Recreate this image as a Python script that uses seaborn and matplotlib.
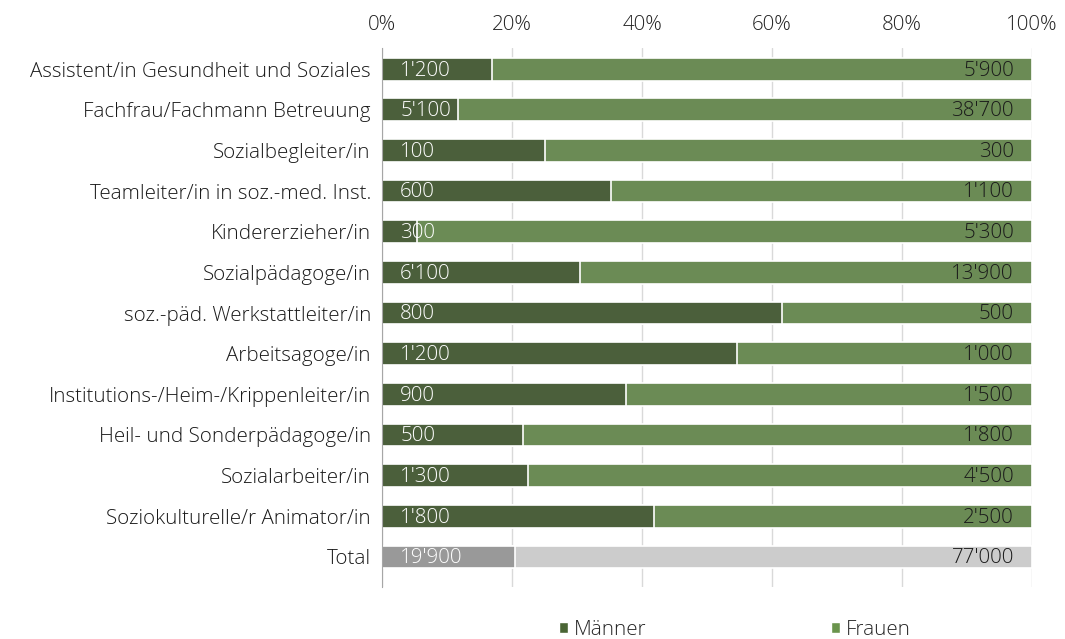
import numpy as np
import pandas as pd
import matplotlib
matplotlib.use('Agg')
import matplotlib.pyplot as plt
import seaborn as sns
from matplotlib.patches import Patch

berufe = ['Assistent/in Gesundheit und Soziales', 'Fachfrau/Fachmann Betreuung',
          'Sozialbegleiter/in', 'Teamleiter/in in soz.-med. Inst.', 'Kindererzieher/in',
          'Sozialpädagoge/in', 'soz.-päd. Werkstattleiter/in', 'Arbeitsagoge/in',
          'Institutions-/Heim-/Krippenleiter/in', 'Heil- und Sonderpädagoge/in',
          'Sozialarbeiter/in', 'Soziokulturelle/r Animator/in', 'Total']
maenner = [1200, 5100, 100, 600, 300, 6100, 800, 1200, 900, 500, 1300, 1800, 19900]
frauen = [5900, 38700, 300, 1100, 5300, 13900, 500, 1000, 1500, 1800, 4500, 2500, 77000]

c_m, c_f = '#4a6535', '#6a944c'
c_m_tot, c_f_tot = '#999999', '#cccccc'

df = pd.DataFrame({'Beruf': berufe, 'Männer': maenner, 'Frauen': frauen})
df['sum'] = df['Männer'] + df['Frauen']
df['m_pct'] = df['Männer'] / df['sum']
df['voll'] = 1.0

sns.set_style('white')
plt.rcParams['font.family'] = ['Open Sans', 'DejaVu Sans']
fs = 14.8

fig = plt.figure(figsize=(10.65, 6.39), dpi=100)
ax = fig.add_axes([0.3587, 0.0814, 0.6103, 0.8435])

pal_f = [c_f] * 12 + [c_f_tot]
pal_m = [c_m] * 12 + [c_m_tot]
sns.barplot(data=df, y='Beruf', x='voll', hue='Beruf', palette=pal_f, legend=False,
            width=0.56, edgecolor='white', linewidth=1.2, ax=ax, zorder=2)
sns.barplot(data=df, y='Beruf', x='m_pct', hue='Beruf', palette=pal_m, legend=False,
            width=0.56, edgecolor='white', linewidth=1.2, ax=ax, zorder=3)

fmt = lambda v: f'{v:,}'.replace(',', "'")
for i in range(len(df)):
    ax.annotate(fmt(maenner[i]), (0, i), xytext=(13, -1), textcoords='offset points',
                ha='left', va='center', color='white', fontsize=fs,
                fontweight='light', zorder=5)
    ax.annotate(fmt(frauen[i]), (1, i), xytext=(-13, -1), textcoords='offset points',
                ha='right', va='center', color='#1a1a1a', fontsize=fs,
                fontweight='light', zorder=5)

ax.set_xlim(0, 1)
ax.set_ylim(12.74, -0.52)
ax.set_xticks(np.arange(0, 1.01, 0.2))
ax.set_xticklabels([f'{int(t*100)}%' for t in np.arange(0, 1.01, 0.2)])
ax.xaxis.tick_top()
ax.tick_params(axis='x', length=0, pad=9, labelsize=fs, colors='#222222')
ax.tick_params(axis='y', length=0, pad=8, labelsize=fs, colors='#1a1a1a')
for lab in ax.get_xticklabels() + ax.get_yticklabels():
    lab.set_fontweight('light')
ax.grid(axis='x', color='#d9d9d9', linewidth=1, zorder=0)
ax.set_axisbelow(True)
ax.set_xlabel('')
ax.set_ylabel('')
for s in ['top', 'right', 'bottom']:
    ax.spines[s].set_visible(False)
ax.spines['left'].set_color('#a6a6a6')
ax.spines['left'].set_zorder(4)

handles = [Patch(facecolor=c_m, label='Männer'), Patch(facecolor=c_f, label='Frauen')]
fig.legend(handles=handles, loc='lower center', bbox_to_anchor=(0.69, -0.03), ncol=2,
           frameon=False, prop={'size': fs, 'weight': 'light'}, handlelength=0.45,
           handleheight=0.45, handletextpad=0.25, columnspacing=9.0)

fig.savefig('out.png', dpi=100)
